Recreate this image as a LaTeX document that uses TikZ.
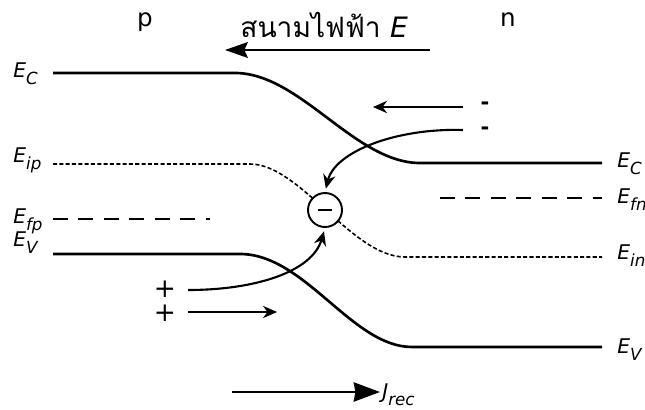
\documentclass[tikz,border=0pt]{standalone}
\usepackage{fontspec}
\setmainfont{DejaVu Sans}
\newfontfamily\thaifont[Script=Thai]{Loma}
\usetikzlibrary{arrows.meta}
\newcommand{\elab}[1]{\textit{E}\raisebox{-4.5pt}{\fontsize{9.5}{11}\selectfont\textit{#1}}}
\begin{document}
\begin{tikzpicture}[x=0.02cm,y=-0.02cm,
  band/.style={line width=1.5pt},
  intr/.style={line width=0.9pt, dash pattern=on 2.3pt off 1.3pt},
  fermi/.style={line width=1.1pt, dash pattern=on 8.5pt off 6pt},
  lab/.style={font=\fontsize{11.5}{13}\selectfont, inner sep=0pt},
  arr/.style={line width=1.2pt, -{Stealth[length=8pt,width=7pt]}},
  bigarr/.style={line width=1.2pt, -{Stealth[length=13pt,width=9pt,inset=2pt]}},
  chg/.style={font=\fontsize{15}{17}\selectfont, inner sep=0pt},
  neg/.style={font=\bfseries\fontsize{12}{14}\selectfont, inner sep=0pt}]
\useasboundingbox (0,0) rectangle (645,409);
% band edges
\coordinate (cL) at (53,73);   \coordinate (cR) at (602,163);
\coordinate (vL) at (53,254);  \coordinate (vR) at (602,347);
\coordinate (iL) at (53,164);  \coordinate (iR) at (602,257);
\coordinate (fpL) at (53,219); \coordinate (fpR) at (210,219);
\coordinate (fnL) at (440,198); \coordinate (fnR) at (602,198);
\draw[band] (cL) -- (235,73) .. controls (300,73) and (355,163) .. (420,163) -- (cR);
\draw[band] (vL) -- (240,254) .. controls (305,254) and (352,347) .. (412,347) -- (vR);
\draw[intr] (iL) -- (250,164) .. controls (300,164) and (352,257) .. (405,257) -- (iR);
\draw[fermi] (fpL) -- (fpR);
\draw[fermi] (fnL) -- (fnR);
% trapped electron
\node[circle, draw, line width=1.1pt, fill=white, minimum size=0.68cm, inner sep=0pt] (e) at (325,210) {\rule{8.5pt}{1.3pt}};
% labels left
\node[lab, anchor=base west] (lC) at (13,77) {\elab{C}};
\node[lab, anchor=base west] (lip) at (13,162) {\elab{ip}};
\node[lab, anchor=base west] (lfp) at (13,223) {\elab{fp}};
\node[lab, anchor=base west] (lV) at (13,246) {\elab{V}};
% labels right
\node[lab, anchor=base west] (rC) at (617,167) {\elab{C}};
\node[lab, anchor=base west] (rfn) at (617,203) {\elab{fn}};
\node[lab, anchor=base west] (rin) at (617,259) {\elab{in}};
\node[lab, anchor=base west] (rV) at (617,353) {\elab{V}};
% region labels
\node[font=\fontsize{14}{16}\selectfont, anchor=base, inner sep=0pt] (p) at (145,27) {p};
\node[font=\fontsize{14}{16}\selectfont, anchor=base, inner sep=0pt] (n) at (508,27) {n};
% field
\node[anchor=base west, inner sep=0pt, font=\fontsize{16}{18}\selectfont] (field) at (240,37) {\thaifont สนามไฟฟ้า \fontspec{DejaVu Sans}\textit{E}};
\coordinate (Ea) at (430,50); \coordinate (Eb) at (225,50);
\draw[bigarr] (Ea) -- (Eb);
% electrons
\node[neg] (m1) at (485,106) {-};
\node[neg] (m2) at (485,131) {-};
\coordinate (m1s) at (463,107); \coordinate (m1e) at (373,107);
\draw[arr] (m1s) -- (m1e);
\coordinate (m2s) at (463,130);
\draw[arr, shorten >=2pt] (m2s) .. controls (395,128) and (335,152) .. (e.north);
% holes
\node[chg] (h1) at (165,289) {+};
\node[chg] (h2) at (165,313) {+};
\coordinate (h1s) at (188,290);
\draw[arr, shorten >=2pt] (h1s) .. controls (255,290) and (312,272) .. (e.south);
\coordinate (h2s) at (188,312); \coordinate (h2e) at (277,312);
\draw[arr] (h2s) -- (h2e);
% recombination current
\coordinate (Ja) at (232,392); \coordinate (Jb) at (380,392);
\draw[line width=1.2pt, -{Stealth[length=15pt,width=11pt,inset=1pt]}] (Ja) -- (Jb);
\node[lab, anchor=base west] (J) at (382,398) {\textit{J}\raisebox{-4.5pt}{\fontsize{9.5}{11}\selectfont\textit{rec}}};
\end{tikzpicture}
\end{document}
